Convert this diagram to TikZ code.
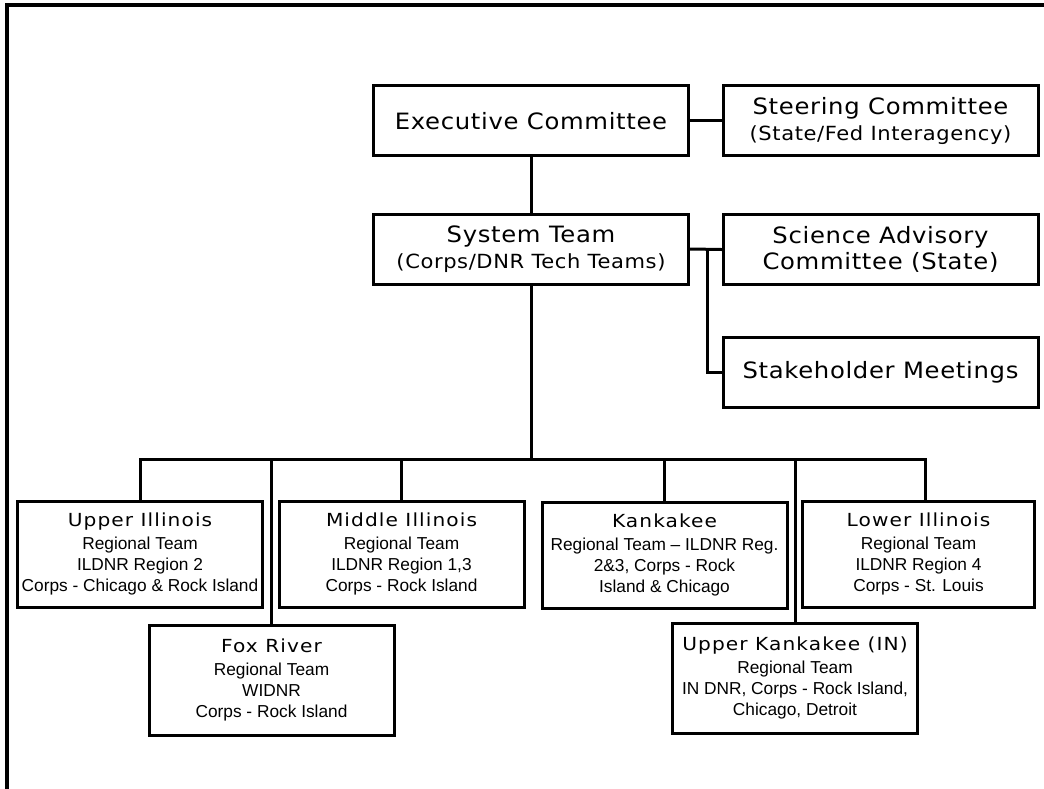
\documentclass[tikz,border=0pt]{standalone}
\usepackage{fontspec}
\setmainfont{Liberation Sans}
\newfontfamily\titlefont[FakeStretch=1.08,LetterSpace=3]{DejaVu Sans}
\newfontfamily\titlefontC[FakeStretch=1.12,LetterSpace=6]{DejaVu Sans}
\newcommand{\ttlA}{\titlefont\fontsize{22.5}{26}\selectfont}
\newcommand{\ttlB}{\titlefont\fontsize{19.5}{26}\selectfont}
\newcommand{\ttlC}{\titlefontC\fontsize{18}{21}\selectfont}
\newcommand{\smallT}{\fontsize{17.3}{21}\selectfont}
\begin{document}
\begin{tikzpicture}[x=1pt,y=-1pt]
\tikzset{
  box/.style={draw, line width=3pt, inner sep=0pt, align=center, text=black},
  upbox/.style={box, minimum width=315pt, minimum height=70pt, font=\ttlA},
  lowbox/.style={box, minimum width=245pt, minimum height=106pt, font=\smallT},
  conn/.style={line width=3pt, line cap=rect, line join=miter},
  frame/.style={line width=3.5pt, line join=miter}
}
\useasboundingbox (0,0) rectangle (1044,789);
\draw[frame] (7,789) -- (7,5) -- (1044,5);

% upper boxes
\node[upbox] (exec) at (531,121) {Executive Committee};
\node[upbox] (steer) at (880.5,121) {Steering Committee\\{\ttlB (State/Fed Interagency)}};
\node[upbox] (sys) at (531,249) {System Team\\{\ttlB (Corps/DNR Tech Teams)}};
\node[upbox] (sci) at (880.5,249.5) {Science Advisory\\Committee (State)};
\node[upbox] (stk) at (880.5,372) {Stakeholder Meetings};

% lower boxes
\node[lowbox] (ui) at (140,554) {{\ttlC Upper Illinois}\\[2.5pt]Regional Team\\ILDNR Region 2\\Corps - Chicago \& Rock Island\rule[-4pt]{0pt}{1pt}};
\node[lowbox] (mi) at (401.5,554) {{\ttlC Middle Illinois}\\[2.5pt]Regional Team\\ILDNR Region 1,3\\Corps - Rock Island\rule[-4pt]{0pt}{1pt}};
\node[lowbox] (kk) at (664.5,555) {{\ttlC Kankakee}\\[2.5pt]Regional Team -- ILDNR Reg.\\2\&3, Corps - Rock\\Island \& Chicago\rule[-4pt]{0pt}{1pt}};
\node[lowbox, minimum width=232pt] (li) at (918.5,554) {{\ttlC Lower Illinois}\\[2.5pt]Regional Team\\ILDNR Region 4\\Corps - St. Louis\rule[-4pt]{0pt}{1pt}};
\node[lowbox, minimum height=110pt] (fox) at (271.5,680) {{\ttlC Fox River}\\[2.5pt]Regional Team\\WIDNR\\Corps - Rock Island\rule[-4pt]{0pt}{1pt}};
\node[lowbox, minimum height=110pt] (uk) at (795,678) {{\ttlC Upper Kankakee (IN)}\\[2.5pt]Regional Team\\IN DNR, Corps - Rock Island,\\Chicago, Detroit\rule[-4pt]{0pt}{1pt}};

% connectors
\draw[conn] (exec.east) -- (steer.west);
\draw[conn] (exec.south) -- (sys.north);
\draw[conn] (sys.east) -- (sci.west);
\coordinate (tap) at (707,249);
\draw[conn] (tap) |- (stk.west);

\coordinate (busy) at (0,459);
\coordinate (busR) at (925,459);
\draw[conn] (sys.south) -- (sys.south |- busy);
\draw[conn] (ui.north) -- (ui.north |- busy) -- (busR) -- (busR |- li.north);
\draw[conn] (fox.north) -- (fox.north |- busy);
\draw[conn] (mi.north) -- (mi.north |- busy);
\draw[conn] (kk.north) -- (kk.north |- busy);
\draw[conn] (uk.north) -- (uk.north |- busy);
\end{tikzpicture}
\end{document}
